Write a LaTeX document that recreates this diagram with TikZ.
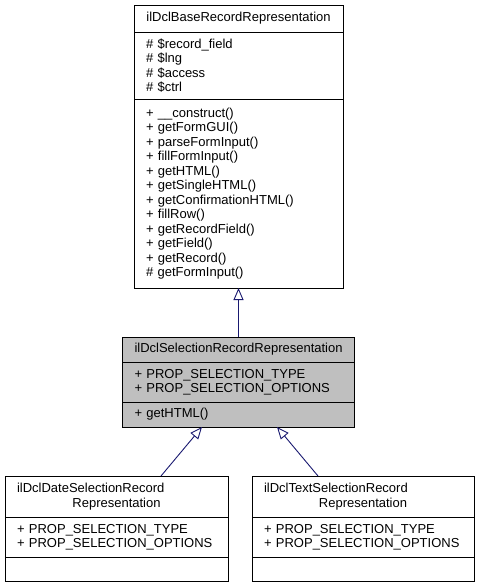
\documentclass[tikz,border=0pt]{standalone}
\usepackage{fontspec}
\newfontfamily\umlfont{Liberation Sans}
\newcommand\classfont{\umlfont\fontsize{13}{14.5}\selectfont}
\usetikzlibrary{positioning,arrows.meta}
\definecolor{edgeblue}{HTML}{191970}
\definecolor{activegray}{HTML}{BFBFBF}
\begin{document}
\begin{tikzpicture}[
  cpart/.style={rectangle, draw=black, fill=white, line width=0.9pt, outer sep=0pt,
    inner xsep=12pt, inner ysep=0pt, align=left, font=\classfont},
  cname/.style={cpart, align=center},
  inherit/.style={draw=edgeblue, line width=0.9pt, -{Triangle[open, length=12pt, width=10pt, fill=white]}},
  node distance=49pt
]
\useasboundingbox (0,0) rectangle (480pt,-588pt);

\node[cname, text width=185pt, minimum height=27pt, anchor=north] (base) at (238.5pt,-5pt) {ilDclBaseRecordRepresentation};
\node[cpart, text width=185pt, minimum height=67pt, below=0pt of base] (baseattr) {\#~\$record\_field\\\#~\$lng\\\#~\$access\\\#~\$ctrl};
\node[cpart, text width=185pt, minimum height=189pt, below=0pt of baseattr] (baseops) {+~\_\_construct()\\+~getFormGUI()\\+~parseFormInput()\\+~fillFormInput()\\+~getHTML()\\+~getSingleHTML()\\+~getConfirmationHTML()\\+~fillRow()\\+~getRecordField()\\+~getField()\\+~getRecord()\\\#~getFormInput()};

\node[cname, fill=activegray, text width=208pt, minimum height=25pt, below=of baseops] (sel) {ilDclSelectionRecordRepresentation};
\node[cpart, fill=activegray, text width=208pt, minimum height=40pt, below=0pt of sel] (selattr) {+~PROP\_SELECTION\_TYPE\\+~PROP\_SELECTION\_OPTIONS};
\node[cpart, fill=activegray, text width=208pt, minimum height=25pt, below=0pt of selattr] (selops) {+~getHTML()};

\node[cname, text width=199pt, minimum height=41pt, below=of selops, xshift=-122pt] (date) {\makebox[\linewidth][l]{ilDclDateSelectionRecord}\\Representation};
\node[cpart, text width=199pt, minimum height=40pt, below=0pt of date] (dateattr) {+~PROP\_SELECTION\_TYPE\\+~PROP\_SELECTION\_OPTIONS};
\node[cpart, text width=199pt, minimum height=24pt, below=0pt of dateattr] (dateops) {};

\node[cname, text width=198pt, minimum height=41pt, below=of selops, xshift=124.5pt] (text) {\makebox[\linewidth][l]{ilDclTextSelectionRecord}\\Representation};
\node[cpart, text width=198pt, minimum height=40pt, below=0pt of text] (textattr) {+~PROP\_SELECTION\_TYPE\\+~PROP\_SELECTION\_OPTIONS};
\node[cpart, text width=198pt, minimum height=24pt, below=0pt of textattr] (textops) {};

\draw[inherit] (sel.north) -- (baseops.south);
\draw[inherit] ([xshift=44.5pt]date.north) -- ([xshift=-36.5pt]selops.south);
\draw[inherit] ([xshift=-45pt]text.north) -- ([xshift=38.5pt]selops.south);
\end{tikzpicture}
\end{document}
